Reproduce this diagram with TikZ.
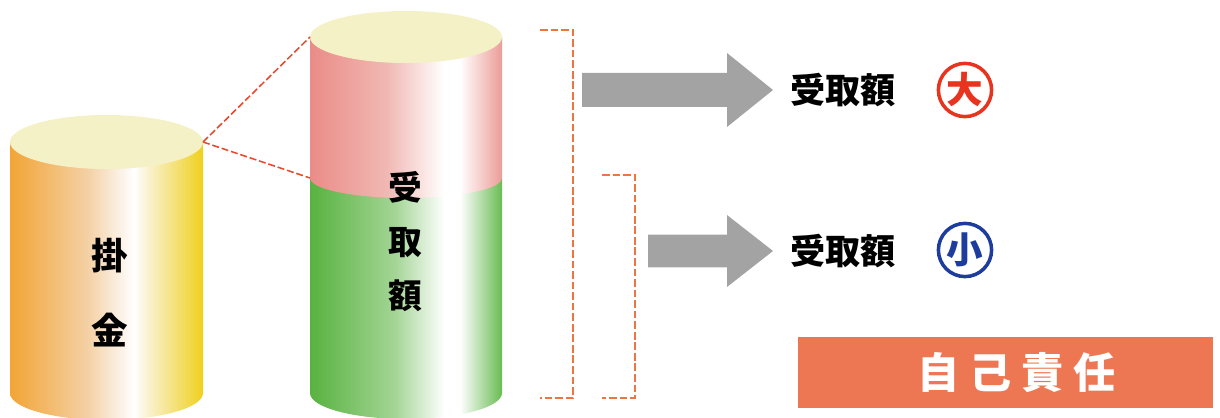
\documentclass[tikz,border=0pt]{standalone}
\usepackage{fontspec}
\newfontfamily\jp{Noto Sans CJK JP}
\usepackage{tikz}
\usetikzlibrary{positioning}

\definecolor{kakeOrange}{HTML}{F2A535}
\definecolor{kakePeach}{HTML}{F4D0A4}
\definecolor{kakeCream}{HTML}{F9F1CC}
\definecolor{kakeYellow}{HTML}{EFD01C}
\definecolor{ukePink}{HTML}{EA8C88}
\definecolor{ukePinkL}{HTML}{F1B8B3}
\definecolor{ukePinkR}{HTML}{EC9C97}
\definecolor{ukeGreen}{HTML}{58B240}
\definecolor{ukeGreenL}{HTML}{A3D594}
\definecolor{ukeGreenR}{HTML}{68BC52}
\definecolor{capYellow}{HTML}{F5F1C6}
\definecolor{cutRed}{HTML}{E64A2C}
\definecolor{braceOrange}{HTML}{EE7442}
\definecolor{arrowGray}{HTML}{A3A3A3}
\definecolor{bigRed}{HTML}{E8341E}
\definecolor{smallBlue}{HTML}{1E3C9E}
\definecolor{boxOrange}{HTML}{EE7753}

% side shadings of the two cylinders (25bp..75bp spans the body)
\pgfdeclarehorizontalshading{kakekin}{100bp}{color(0bp)=(kakeOrange); color(25bp)=(kakeOrange); color(45bp)=(kakePeach); color(57bp)=(white); color(61bp)=(kakeCream); color(75bp)=(kakeYellow); color(100bp)=(kakeYellow)}
\pgfdeclarehorizontalshading{ukePinkSide}{100bp}{color(0bp)=(ukePink); color(25bp)=(ukePink); color(45bp)=(ukePinkL); color(60bp)=(white); color(64bp)=(white); color(75bp)=(ukePinkR); color(100bp)=(ukePinkR)}
\pgfdeclarehorizontalshading{ukeGreenSide}{100bp}{color(0bp)=(ukeGreen); color(25bp)=(ukeGreen); color(47bp)=(ukeGreenL); color(60bp)=(white); color(64bp)=(white); color(75bp)=(ukeGreenR); color(100bp)=(ukeGreenR)}

\tikzset{zoomline/.style={draw=cutRed, line width=1.1pt, dash pattern=on 5pt off 2pt},
         bracket/.style={draw=braceOrange, line width=1.2pt, dash pattern=on 5.5pt off 2pt},
         blockarrow/.style={fill=arrowGray},
         amount/.style={font=\jp\bfseries\fontsize{25}{30}\selectfont, inner sep=0pt},
         rank/.style={circle, line width=2.5pt, minimum size=1.33cm, inner sep=0pt, font=\jp\bfseries\fontsize{26}{30}\selectfont},
         selfbox/.style={fill=boxOrange, text=white, minimum width=10.375cm, minimum height=1.775cm, font=\jp\bfseries\fontsize{30}{34}\selectfont}}

\begin{document}
\begin{tikzpicture}
    \useasboundingbox (0,0) rectangle (30.5,10.45);

    % left cylinder
    \shade[shading=kakekin] (0.25,6.9) -- (0.25,0.625) arc[start angle=180, end angle=360, x radius=2.4125, y radius=0.675] -- (5.075,6.9) -- cycle;
    \fill[capYellow] (2.6625,6.9) ellipse [x radius=2.4125, y radius=0.675];
    \node[align=center, font=\jp\bfseries\fontsize{26}{53}\selectfont] (kake) at (2.75,3.1375) {掛\\金};

    % right cylinder, green part under the pink part
    \shade[shading=ukeGreenSide] (7.75,9.525) -- (7.75,0.625) arc[start angle=180, end angle=360, x radius=2.4, y radius=0.65] -- (12.55,9.525) -- cycle;
    \shade[shading=ukePinkSide] (7.75,9.525) -- (7.75,6.0) arc[start angle=180, end angle=360, x radius=2.4, y radius=0.5] -- (12.55,9.525) -- cycle;
    \fill[capYellow] (10.15,9.525) ellipse [x radius=2.4, y radius=0.65];
    \node[align=center, font=\jp\bfseries\fontsize{24}{38.4}\selectfont] (uke) at (10.125,4.4) {受\\取\\額};

    % zoom lines
    \coordinate (kakeR) at (5.075,6.9);
    \coordinate (ukeTop) at (7.75,9.525);
    \coordinate (ukeMid) at (7.75,6.0);
    \draw[zoomline] (kakeR) -- (ukeTop);
    \draw[zoomline] (kakeR) -- (ukeMid);

    % brackets
    \draw[bracket] (13.5,9.7) -- (14.325,9.7) -- (14.325,0.5) -- (13.5,0.5);
    \draw[bracket] (15.05,6.075) -- (15.875,6.075) -- (15.875,0.5) -- (15.05,0.5);

    % arrows
    \coordinate (a1) at (14.55,8.2);
    \coordinate (a2) at (16.2,4.175);
    \fill[blockarrow, shift={(a1)}] (0,-0.425) -- (3.625,-0.425) -- (3.625,-0.925) -- (4.775,0) -- (3.625,0.925) -- (3.625,0.425) -- (0,0.425) -- cycle;
    \fill[blockarrow, shift={(a2)}] (0,-0.41) -- (1.975,-0.41) -- (1.975,-0.9) -- (3.125,0) -- (1.975,0.9) -- (1.975,0.41) -- (0,0.41) -- cycle;

    % results
    \node[amount] (big) at (21.075,8.2) {受取額};
    \node[rank, draw=bigRed, text=bigRed] (bigmark) at (24.125,8.2) {大};
    \node[amount] (small) at (21.075,4.175) {受取額};
    \node[rank, draw=smallBlue, text=smallBlue] (smallmark) at (24.125,4.2) {小};

    \node[selfbox] (jiko) at (25.1375,1.1375) {\hspace*{0.55cm}自\hspace{0.25cm}己\hspace{0.25cm}責\hspace{0.25cm}任};
\end{tikzpicture}
\end{document}
